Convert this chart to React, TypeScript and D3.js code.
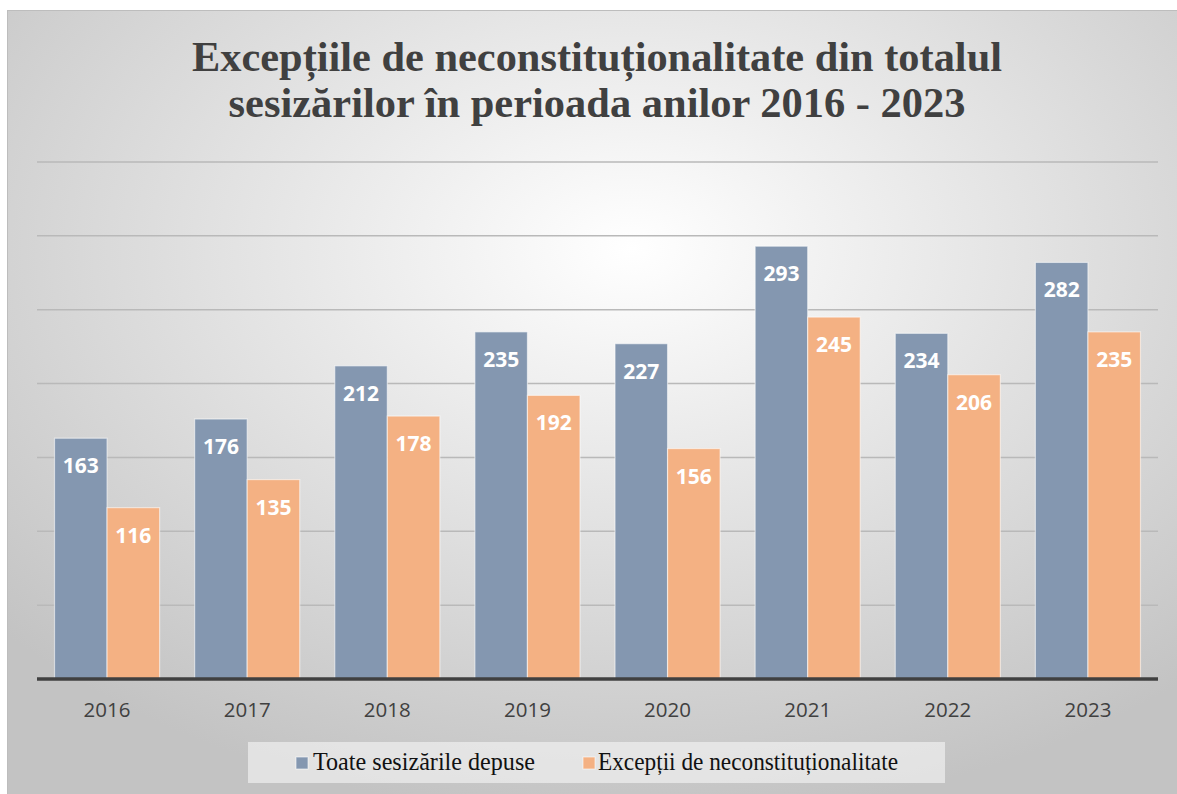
import * as d3 from 'd3';
import React from 'react';

// chart values
const years = ['2016', '2017', '2018', '2019', '2020', '2021', '2022', '2023'];
const seriesNames = ['Toate sesizările depuse', 'Excepții de neconstituționalitate'];
const totalFiled = [163, 176, 212, 235, 227, 293, 234, 282];
const exceptions = [116, 135, 178, 192, 156, 245, 206, 235];
const gridTicks = [50, 100, 150, 200, 250, 300, 350];
const titleLines = [
  'Excepțiile de neconstituționalitate din totalul',
  'sesizărilor în perioada anilor 2016 - 2023',
];

const colors = ['#8497B0', '#F4B183'];

export default function App() {
  const width = 1177;
  const height = 794;
  const left = 37;
  const right = 1158;
  const baseY = 679;
  const topY = 162;

  const x = d3.scaleBand<string>()
    .domain(years)
    .range([left, right])
    .paddingInner(0.25)
    .paddingOuter(0.125);

  const xInner = d3.scaleBand<string>()
    .domain(seriesNames)
    .range([0, x.bandwidth()]);

  const y = d3.scaleLinear()
    .domain([0, 350])
    .range([baseY, topY]);

  const rows = years.map((yr, i) => ({ year: yr, values: [totalFiled[i], exceptions[i]] }));

  const serif = '"Liberation Serif", "Times New Roman", serif';
  const sans = '"Open Sans", "Noto Sans", sans-serif';

  return (
    <svg width={width} height={height} style={{ position: 'absolute', left: 0, top: 0, display: 'block' }}>
      <defs>
        <radialGradient id="bg" cx="0.53" cy="0.3" r="0.72" fx="0.53" fy="0.3">
          <stop offset="0" stopColor="#ffffff" />
          <stop offset="1" stopColor="#c3c3c3" />
        </radialGradient>
      </defs>
      <rect x={0} y={0} width={width} height={height} fill="#ffffff" />
      <rect x={7.5} y={10.5} width={width} height={height} fill="url(#bg)" stroke="#bdbdbd" strokeWidth={1} />

      {/* title */}
      <text
        x={597} y={71} textAnchor="middle" fontFamily={serif} fontWeight="bold" fontSize={43}
        fill="#404040" textLength={810} lengthAdjust="spacingAndGlyphs"
      >{titleLines[0]}</text>
      <text
        x={597} y={117} textAnchor="middle" fontFamily={serif} fontWeight="bold" fontSize={43}
        fill="#404040" textLength={737} lengthAdjust="spacingAndGlyphs"
      >{titleLines[1]}</text>

      {/* grid */}
      {gridTicks.map(t => (
        <line key={t} x1={left} x2={right} y1={y(t)} y2={y(t)} stroke="#b9b9b9" strokeWidth={1.5} />
      ))}

      {/* bars */}
      {rows.map(r => (
        <g key={r.year} transform={`translate(${x(r.year)},0)`}>
          {r.values.map((v, j) => (
            <g key={j}>
              <rect
                x={xInner(seriesNames[j])}
                y={y(v)}
                width={xInner.bandwidth()}
                height={baseY - y(v)}
                fill={colors[j]}
                stroke="rgba(255,255,255,0.55)"
                strokeWidth={1.2}
              />
              <text
                x={(xInner(seriesNames[j]) ?? 0) + xInner.bandwidth() / 2}
                y={y(v) + 35}
                textAnchor="middle"
                fontFamily={sans}
                fontWeight="bold"
                fontSize={21}
                fill="#ffffff"
              >{v}</text>
            </g>
          ))}
        </g>
      ))}

      {/* axis */}
      <line x1={left} x2={right} y1={baseY} y2={baseY} stroke="#404040" strokeWidth={3.5} />
      {years.map(yr => (
        <text
          key={yr}
          x={(x(yr) ?? 0) + x.bandwidth() / 2}
          y={717}
          textAnchor="middle"
          fontFamily={sans}
          fontSize={20.5}
          fill="#404040"
        >{yr}</text>
      ))}

      {/* legend */}
      <rect x={248} y={742} width={697} height={41} fill="#f6f6f6" opacity={0.6} />
      <rect x={296} y={757} width={12} height={12} fill={colors[0]} stroke="rgba(255,255,255,0.6)" />
      <text x={313} y={770} fontFamily={serif} fontSize={25} fill="#111111" textLength={222} lengthAdjust="spacingAndGlyphs">
        {seriesNames[0]}
      </text>
      <rect x={583} y={757} width={12} height={12} fill={colors[1]} stroke="rgba(255,255,255,0.6)" />
      <text x={598} y={770} fontFamily={serif} fontSize={25} fill="#111111" textLength={300} lengthAdjust="spacingAndGlyphs">
        {seriesNames[1]}
      </text>
    </svg>
  );
}
